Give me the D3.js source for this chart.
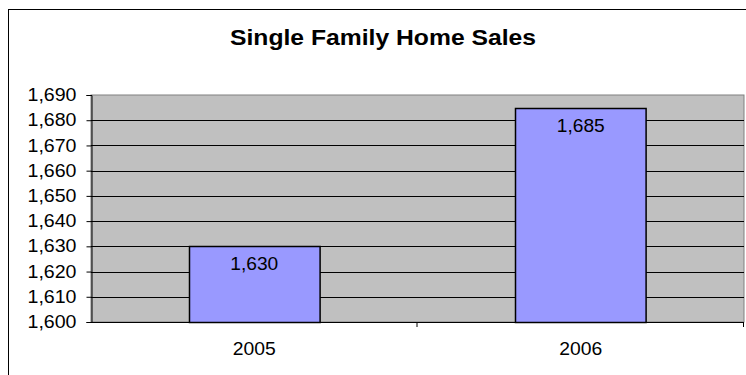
<!DOCTYPE html>
<html>
<head>
<meta charset="utf-8">
<script src="https://cdn.jsdelivr.net/npm/d3@7"></script>
<style>
  body { margin: 0; background: #fff; }
  text { font-family: "Liberation Sans", Arial, sans-serif; }
</style>
</head>
<body>
<div id="chart"></div>
<script>
var years = ["2005", "2006"];
var sales = [1630, 1685];
var yTicks = [1600, 1610, 1620, 1630, 1640, 1650, 1660, 1670, 1680, 1690];

var W = 746, H = 375;
var plot = { left: 91, top: 95, right: 744, bottom: 322 };

var svg = d3.select("#chart").append("svg")
    .attr("width", W)
    .attr("height", H);

// outer chart border
svg.append("rect")
    .attr("x", 8.5).attr("y", 9.5)
    .attr("width", W).attr("height", H)
    .attr("fill", "#fff")
    .attr("stroke", "#000");

svg.append("text")
    .attr("x", 383).attr("y", 45)
    .attr("text-anchor", "middle")
    .attr("textLength", 306)
    .attr("lengthAdjust", "spacingAndGlyphs")
    .style("font-size", "22px")
    .style("font-weight", "bold")
    .text("Single Family Home Sales");

var x = d3.scaleBand()
    .domain(years)
    .range([plot.left, plot.right])
    .paddingInner(0.6)
    .paddingOuter(0.3);

var y = d3.scaleLinear()
    .domain([1600, 1690])
    .range([plot.bottom, plot.top]);

// plot area
svg.append("rect")
    .attr("x", plot.left).attr("y", plot.top)
    .attr("width", plot.right - plot.left)
    .attr("height", plot.bottom - plot.top)
    .attr("fill", "#c0c0c0")
    .attr("stroke", "#808080");

// gridlines
svg.append("g")
  .selectAll("line")
  .data(yTicks.slice(1, -1))
  .enter()
  .append("line")
    .attr("x1", plot.left).attr("x2", plot.right)
    .attr("y1", d => Math.round(y(d)) + 0.5)
    .attr("y2", d => Math.round(y(d)) + 0.5)
    .attr("stroke", "#000");

// y axis
var yAxis = svg.append("g")
    .attr("transform", "translate(" + (plot.left + 0.5) + ",0)")
    .call(d3.axisLeft(y).tickValues(yTicks).tickSize(5).tickPadding(10)
        .tickFormat(d3.format(",")));
yAxis.select(".domain").attr("stroke", "#000");
yAxis.selectAll("text")
    .style("font-size", "17.5px")
    .attr("textLength", 49)
    .attr("lengthAdjust", "spacingAndGlyphs")
    .attr("fill", "#000");

// x axis line and ticks between categories
var xg = svg.append("g");
xg.append("line")
    .attr("x1", plot.left).attr("x2", plot.right)
    .attr("y1", plot.bottom + 0.5).attr("y2", plot.bottom + 0.5)
    .attr("stroke", "#000");
var bounds = [plot.left + x.step(), plot.right];
xg.selectAll("line.tk")
  .data(bounds)
  .enter()
  .append("line")
    .attr("class", "tk")
    .attr("x1", d => d - 0.5).attr("x2", d => d - 0.5)
    .attr("y1", plot.bottom).attr("y2", plot.bottom + 5)
    .attr("stroke", "#000");
xg.selectAll("text")
  .data(years)
  .enter()
  .append("text")
    .attr("x", d => x(d) + x.bandwidth() / 2)
    .attr("y", 355)
    .attr("text-anchor", "middle")
    .attr("textLength", 43)
    .attr("lengthAdjust", "spacingAndGlyphs")
    .style("font-size", "17.5px")
    .text(d => d);

// bars
svg.append("g")
  .selectAll("rect")
  .data(sales)
  .enter()
  .append("rect")
    .attr("x", (d, i) => Math.round(x(years[i])) + 0.5)
    .attr("y", d => Math.round(y(d)) + 0.5)
    .attr("width", x.bandwidth())
    .attr("height", d => Math.round(y(1600)) - Math.round(y(d)))
    .attr("fill", "#9999ff")
    .attr("stroke", "#000")
    .attr("stroke-width", 1.5);

// value labels
svg.append("g")
  .selectAll("text")
  .data(sales)
  .enter()
  .append("text")
    .attr("x", (d, i) => x(years[i]) + x.bandwidth() / 2)
    .attr("y", d => y(d) + 24)
    .attr("text-anchor", "middle")
    .attr("textLength", 48)
    .attr("lengthAdjust", "spacingAndGlyphs")
    .style("font-size", "17.5px")
    .text(d => d3.format(",")(d));
</script>
</body>
</html>
